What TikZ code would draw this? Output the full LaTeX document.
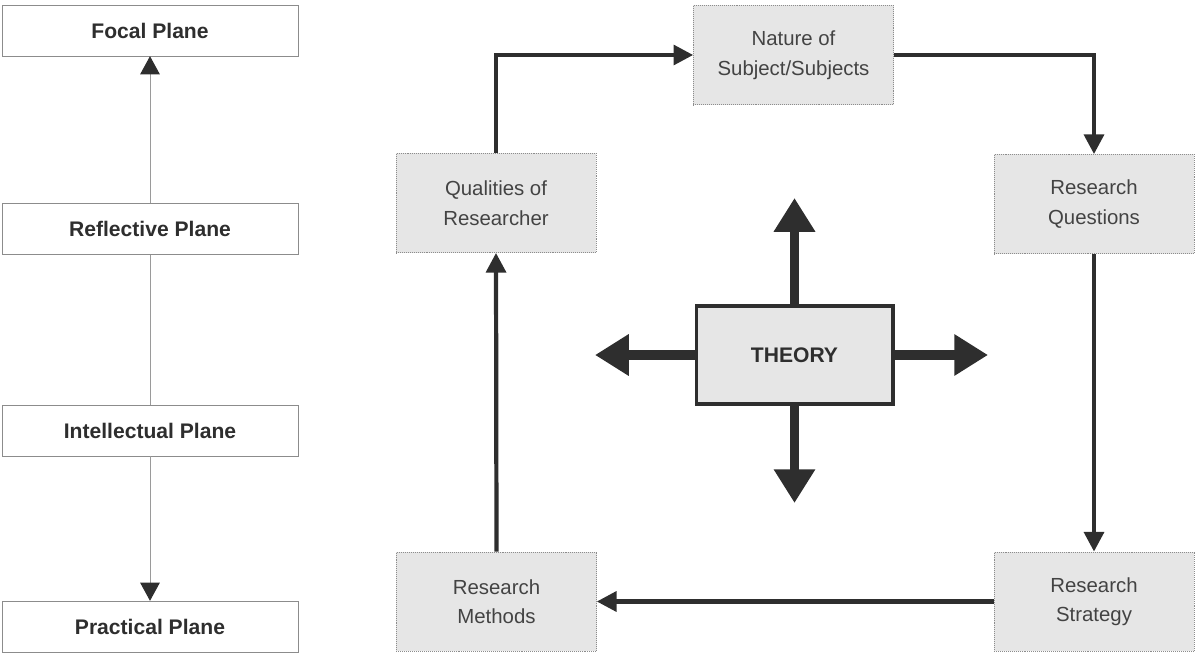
\documentclass[tikz,border=0pt]{standalone}
\usepackage{fontspec}
\setmainfont{Liberation Sans}
\definecolor{rpInk}{HTML}{2E2E2E}
\definecolor{rpEdge}{HTML}{8C8C8C}
\definecolor{rpFill}{HTML}{E6E6E6}
\definecolor{rpLine}{HTML}{9A9A9A}
\usetikzlibrary{positioning,arrows.meta}

\tikzset{
  plane/.style={draw=rpEdge, fill=white, minimum width=7.4cm, minimum height=1.27cm,
    font=\fontsize{15}{18}\selectfont\bfseries, text=rpInk},
  stage/.style={draw=rpEdge, densely dotted, fill=rpFill, minimum width=5cm, minimum height=2.48cm,
    align=center, font=\fontsize{14.5}{21}\selectfont, text=rpInk!90},
  core/.style={draw=rpInk, line width=2.8pt, fill=rpFill, minimum width=4.9cm, minimum height=2.45cm,
    font=\fontsize{15}{18}\selectfont\bfseries, text=rpInk},
  link/.style={draw=rpLine, line width=0.7pt},
  thin/.style={link, -{Triangle[length=13pt,width=14pt,color=rpInk]}},
  flow/.style={draw=rpInk, line width=3pt, -{Triangle[length=14pt,width=14pt]}},
  burst/.style={draw=rpInk, line width=7pt, -{Triangle[length=24pt,width=28pt]}}
}

\begin{document}
\begin{tikzpicture}[x=0.025cm, y=-0.025cm]
  \useasboundingbox (0,0) rectangle (1197,657);

  % planes down the left side
  \node[plane] (focal) at (150,30.5) {Focal Plane};
  \node[plane] (reflect) at (150,229) {Reflective Plane};
  \node[plane] (intel) at (150,430.5) {Intellectual Plane};
  \node[plane] (pract) at (150,626.5) {Practical Plane};
  \draw[thin] (reflect) -- (focal);
  \draw[link] (reflect) -- (intel);
  \draw[thin] (intel) -- (pract);

  % research cycle
  \node[stage] (nature) at (793.5,55) {Nature of\\Subject/Subjects};
  \node[stage] (qual) at (496,203) {Qualities of\\Researcher};
  \node[stage] (quest) at (1094,204) {Research\\Questions};
  \node[stage] (meth) at (496.5,601.5) {Research\\Methods};
  \node[stage] (strat) at (1094,601.5) {Research\\Strategy};
  \node[core] (theory) at (794.5,355) {THEORY};

  \draw[flow] (qual.north) |- (nature.west);
  \draw[flow] (nature.east) -| (quest.north);
  \draw[flow] (quest.south) -- (strat.north);
  \draw[flow] (strat.west) -- (meth.east);
  \draw[flow] (meth.north) -- (qual.south);

  % arrows out of the theory box
  \coordinate (tUp) at (794.5,198);
  \coordinate (tDown) at (794.5,503);
  \coordinate (tLeft) at (595,355);
  \coordinate (tRight) at (988,355);
  \draw[burst] (theory.north) -- (tUp);
  \draw[burst] (theory.south) -- (tDown);
  \draw[burst] (theory.west) -- (tLeft);
  \draw[burst] (theory.east) -- (tRight);
\end{tikzpicture}
\end{document}
